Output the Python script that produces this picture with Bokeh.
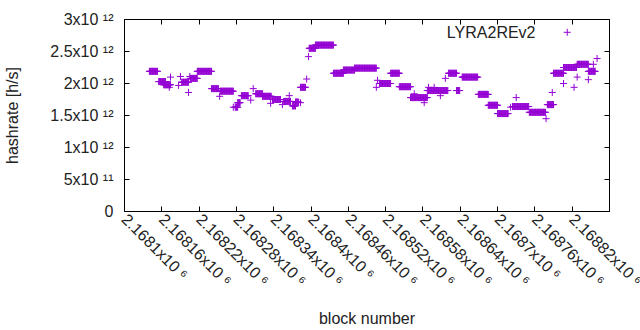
import numpy as np
from math import pi
from bokeh.plotting import figure
from bokeh.models import (FixedTicker, CustomJSTickFormatter, LinearAxis, Range1d, Label)
from bokeh.embed import file_html
from bokeh.resources import INLINE

# ---- data (block number, hashrate in units of 1e12 h/s) ----
# runs of consecutive blocks at a constant hashrate
run_start = [2168140, 2168155, 2168163, 2168192, 2168206, 2168217, 2168240, 2168254,
             2168278, 2168282, 2168288, 2168311, 2168322, 2168338, 2168356, 2168370,
             2168375, 2168383, 2168397, 2168407, 2168436, 2168452, 2168470, 2168510,
             2168528, 2168542, 2168560, 2168587, 2168621, 2168634, 2168643, 2168669,
             2168685, 2168700, 2168724, 2168751, 2168780, 2168790, 2168806, 2168828,
             2168846]
run_end = [2168153, 2168166, 2168174, 2168203, 2168217, 2168240, 2168251, 2168275,
           2168282, 2168286, 2168299, 2168322, 2168336, 2168351, 2168367, 2168375,
           2168380, 2168391, 2168407, 2168436, 2168452, 2168470, 2168505, 2168528,
           2168542, 2168560, 2168587, 2168620, 2168634, 2168639, 2168668, 2168685,
           2168700, 2168717, 2168750, 2168777, 2168790, 2168806, 2168827, 2168846,
           2168857]
run_value = [2.19, 2.03, 1.98, 2.02, 2.08, 2.19, 1.92, 1.88,
             1.63, 1.70, 1.81, 1.84, 1.80, 1.75, 1.72, 1.65,
             1.71, 1.94, 2.55, 2.60, 2.16, 2.21, 2.24, 2.00,
             2.16, 1.95, 1.78, 1.89, 2.16, 1.89, 2.10, 1.83,
             1.66, 1.53, 1.64, 1.55, 1.67, 2.16, 2.25, 2.30,
             2.19]
# isolated blocks
iso_block = [2168172, 2168174, 2168187, 2168190, 2168205, 2168203, 2168253, 2168275,
             2168303, 2168307, 2168335, 2168354, 2168365, 2168383, 2168393, 2168396,
             2168507, 2168505, 2168566, 2168582, 2168589, 2168598, 2168608, 2168616,
             2168721, 2168730, 2168778, 2168788, 2168806, 2168823, 2168828, 2168846,
             2168854, 2168860]
iso_value = [1.94, 2.10, 1.97, 2.11, 2.11, 1.86, 1.80, 1.63,
             1.74, 1.92, 1.69, 1.67, 1.81, 1.70, 2.07, 2.42,
             2.05, 1.94, 1.84, 1.70, 1.94, 1.94, 1.81, 2.08,
             1.63, 1.78, 1.45, 1.86, 2.00, 1.94, 2.10, 2.06,
             2.30, 2.39]

x_ticks = [2168100, 2168160, 2168220, 2168280, 2168340, 2168400, 2168460,
           2168520, 2168580, 2168640, 2168700, 2168760, 2168820, 2168880]
x_tick_labels = ["2.1681x10 \u2076", "2.16816x10 \u2076", "2.16822x10 \u2076", "2.16828x10 \u2076",
                 "2.16834x10 \u2076", "2.1684x10 \u2076", "2.16846x10 \u2076", "2.16852x10 \u2076",
                 "2.16858x10 \u2076", "2.16864x10 \u2076", "2.1687x10 \u2076", "2.16876x10 \u2076",
                 "2.16882x10 \u2076", "2.16888x10 \u2076"]
y_ticks = [0, 0.5e12, 1.0e12, 1.5e12, 2.0e12, 2.5e12, 3.0e12]
y_tick_labels = ["0", "5x10 \u00b9\u00b9", "1x10 \u00b9\u00b2", "1.5x10 \u00b9\u00b2",
                 "2x10 \u00b9\u00b2", "2.5x10 \u00b9\u00b2", "3x10 \u00b9\u00b2"]
series_name = "LYRA2REv2"

# ---- build points ----
xs, ys = [], []
for s, e, v in zip(run_start, run_end, run_value):
    for b in range(s, e + 1):
        xs.append(b)
        ys.append(v * 1e12)
for b, v in zip(iso_block, iso_value):
    xs.append(b)
    ys.append(v * 1e12)

COLOR = "#9400D3"
FONT = "Liberation Sans"
TXT = "#222222"

p = figure(width=640, height=330, output_backend="svg", toolbar_location=None,
           x_range=Range1d(x_ticks[0], x_ticks[-1]), y_range=Range1d(y_ticks[0], y_ticks[-1]),
           min_border_left=124, min_border_right=31, min_border_top=19, min_border_bottom=119,
           background_fill_color="white", border_fill_color="white")
p.grid.visible = False
p.outline_line_color = "black"
p.outline_line_width = 1

p.scatter(xs, ys, marker="cross", size=7, line_color=COLOR, line_width=1)

def fmt(vals, labs):
    return CustomJSTickFormatter(args=dict(vals=vals, labs=labs), code="""
        let best = -1, bd = Infinity;
        for (let i = 0; i < vals.length; i++) {
            const d = Math.abs(vals[i] - tick);
            if (d < bd) { bd = d; best = i; }
        }
        return labs[best];
    """)

blank = CustomJSTickFormatter(code="return '';")

for ax in [p.xaxis[0], p.yaxis[0]]:
    ax.major_tick_in = 5
    ax.major_tick_out = 0
    ax.minor_tick_line_color = None
    ax.axis_line_color = "black"
    ax.major_tick_line_color = "black"
    ax.major_label_text_font = FONT
    ax.major_label_text_font_size = "16px"
    ax.major_label_text_color = TXT
    ax.axis_label_text_font = FONT
    ax.axis_label_text_font_size = "16px"
    ax.axis_label_text_font_style = "normal"
    ax.axis_label_text_color = TXT

# the last x label overflows the canvas (cut off, as in the original) - it is drawn
# as a free label so the axis does not shift it inward
axis_x_labels = x_tick_labels[:-1] + [""]
p.xaxis[0].ticker = FixedTicker(ticks=x_ticks)
p.xaxis[0].formatter = fmt(x_ticks, axis_x_labels)
p.xaxis[0].major_label_orientation = -pi / 4
p.xaxis[0].major_label_standoff = 5
p.xaxis[0].axis_label = "block number"
p.xaxis[0].axis_label_standoff = 12

p.add_layout(Label(x=x_ticks[-1], y=y_ticks[0], text=x_tick_labels[-1], angle=-pi / 4,
                   text_align="left", text_baseline="middle", y_offset=-5,
                   text_font=FONT, text_font_size="16px", text_color=TXT))

p.yaxis[0].ticker = FixedTicker(ticks=y_ticks)
p.yaxis[0].formatter = fmt(y_ticks, y_tick_labels)
p.yaxis[0].major_label_standoff = 11
p.yaxis[0].axis_label = "hashrate [h/s]"
p.yaxis[0].axis_label_standoff = 26

# mirrored ticks on top and right
top = LinearAxis(ticker=FixedTicker(ticks=x_ticks), formatter=blank, major_tick_in=5,
                 major_tick_out=0, minor_tick_line_color=None, axis_line_color=None,
                 major_label_standoff=0, major_label_text_font_size="1px")
right = LinearAxis(ticker=FixedTicker(ticks=y_ticks), formatter=blank, major_tick_in=5,
                   major_tick_out=0, minor_tick_line_color=None, axis_line_color=None,
                   major_label_standoff=0, major_label_text_font_size="1px")
p.add_layout(top, "above")
p.add_layout(right, "right")

# key (gnuplot style: text then sample)
key_x_text = 2168761
key_x_mark = 2168812
key_y = 2.80e12
p.add_layout(Label(x=key_x_text, y=key_y, text=series_name, text_align="right",
                   text_baseline="middle", text_font=FONT, text_font_size="16px",
                   text_color=TXT))
p.scatter([key_x_mark], [key_y], marker="cross", size=7, line_color=COLOR, line_width=1)

open("out.html", "w").write(file_html(p, INLINE))
